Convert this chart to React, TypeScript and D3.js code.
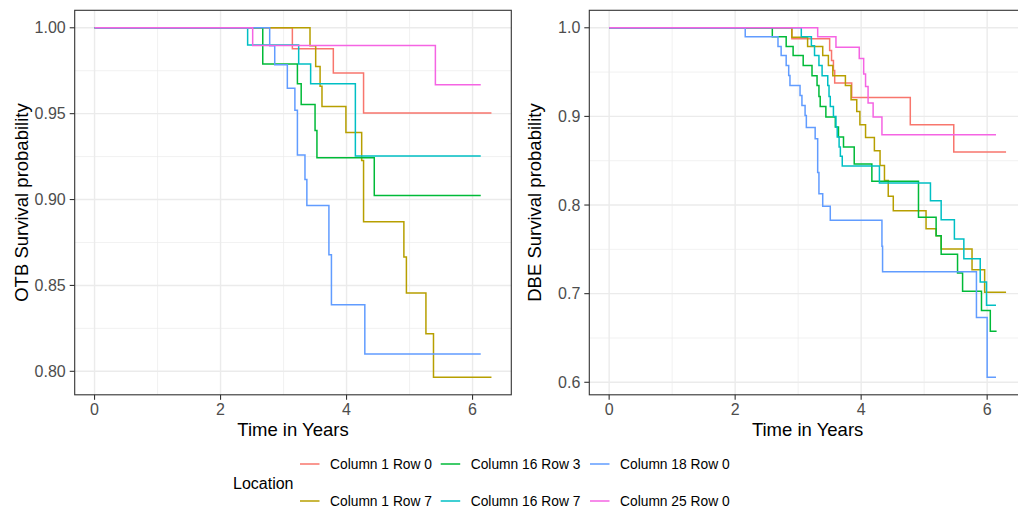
import React from 'react';
import * as d3 from 'd3';

type Pt = [number, number];

// ---------- data ----------
const locations = ['Column 1 Row 0', 'Column 1 Row 7', 'Column 16 Row 3', 'Column 16 Row 7', 'Column 18 Row 0', 'Column 25 Row 0'];
const colors = ['#F8766D', '#B79F00', '#00BA38', '#00BFC4', '#619CFF', '#F564E3'];

// OTB panel (time in years, survival probability)
const otbC1R0: Pt[] = [[0, 1], [3.14, 0.9878], [3.79, 0.9737], [4.27, 0.9504], [6.3, 0.9504]];
const otbC1R7: Pt[] = [[0, 1], [3.42, 0.9895], [3.51, 0.9775], [3.58, 0.966], [3.61, 0.9542], [3.99, 0.939], [4.24, 0.9228], [4.27, 0.887], [4.91, 0.8666], [4.95, 0.8456], [5.26, 0.8218], [5.38, 0.7965], [6.3, 0.7965]];
const otbC16R3: Pt[] = [[0, 1], [2.67, 0.9789], [3.22, 0.9674], [3.28, 0.9553], [3.5, 0.9402], [3.53, 0.9244], [4.44, 0.9024], [6.13, 0.9024]];
const otbC16R7: Pt[] = [[0, 1], [2.43, 0.99], [3.24, 0.9789], [3.43, 0.9674], [4.14, 0.9253], [6.13, 0.9253]];
const otbC18R0: Pt[] = [[0, 1], [2.78, 0.9895], [2.86, 0.9785], [3.06, 0.9648], [3.18, 0.952], [3.22, 0.9259], [3.34, 0.9116], [3.37, 0.8966], [3.72, 0.8679], [3.76, 0.8388], [4.29, 0.8101], [6.13, 0.8101]];
const otbC25R0: Pt[] = [[0, 1], [2.51, 0.9897], [5.41, 0.9668], [6.13, 0.9668]];

// DBE panel
const dbeC1R0: Pt[] = [[0, 1], [2.9, 0.9876], [3.5, 0.9744], [3.53, 0.9631], [3.56, 0.9519], [3.58, 0.9376], [3.85, 0.9214], [4.78, 0.8906], [5.47, 0.8598], [6.3, 0.8598]];
const dbeC1R7: Pt[] = [[0, 1], [2.9, 0.9893], [3.15, 0.979], [3.39, 0.9688], [3.48, 0.9575], [3.55, 0.946], [3.75, 0.9349], [3.84, 0.9187], [3.93, 0.9055], [3.98, 0.8905], [4.07, 0.8762], [4.21, 0.8612], [4.3, 0.8447], [4.37, 0.8278], [4.43, 0.8098], [4.51, 0.7935], [5.03, 0.7733], [5.19, 0.7654], [5.27, 0.7504], [5.76, 0.7271], [5.96, 0.7015], [6.3, 0.7015]];
const dbeC16R3: Pt[] = [[0, 1], [2.59, 0.9898], [2.81, 0.979], [2.92, 0.9688], [3.08, 0.9575], [3.22, 0.946], [3.3, 0.935], [3.33, 0.9225], [3.35, 0.9112], [3.44, 0.8993], [3.59, 0.888], [3.64, 0.8767], [3.72, 0.8655], [3.89, 0.8463], [4.17, 0.8267], [4.91, 0.7861], [5.19, 0.7654], [5.27, 0.7444], [5.53, 0.7234], [5.61, 0.7026], [5.91, 0.681], [6.05, 0.6575], [6.15, 0.6575]];
const dbeC16R7: Pt[] = [[0, 1], [3.05, 0.9898], [3.21, 0.9797], [3.26, 0.9688], [3.33, 0.9575], [3.38, 0.946], [3.47, 0.935], [3.49, 0.9225], [3.51, 0.9112], [3.56, 0.9], [3.6, 0.888], [3.62, 0.8767], [3.65, 0.8655], [3.67, 0.855], [3.7, 0.844], [4.29, 0.8249], [5.1, 0.8049], [5.27, 0.7834], [5.48, 0.7617], [5.63, 0.7395], [5.89, 0.7132], [5.99, 0.6868], [6.14, 0.6868]];
const dbeC18R0: Pt[] = [[0, 1], [2.16, 0.9898], [2.68, 0.979], [2.73, 0.9688], [2.81, 0.9575], [2.85, 0.9462], [2.87, 0.9349], [3.03, 0.9236], [3.06, 0.9124], [3.11, 0.9011], [3.13, 0.8876], [3.27, 0.8748], [3.31, 0.8368], [3.33, 0.8128], [3.39, 0.7985], [3.51, 0.7827], [4.33, 0.7534], [4.34, 0.7248], [5.83, 0.673], [6.0, 0.6056], [6.14, 0.6056]];
const dbeC25R0: Pt[] = [[0, 1], [3.31, 0.99], [3.6, 0.978], [3.97, 0.9654], [4.04, 0.9478], [4.07, 0.9338], [4.11, 0.9151], [4.19, 0.8993], [4.33, 0.8793], [6.14, 0.8793]];

const otbSeries = [otbC1R0, otbC1R7, otbC16R3, otbC16R7, otbC18R0, otbC25R0];
const dbeSeries = [dbeC1R0, dbeC1R7, dbeC16R3, dbeC16R7, dbeC18R0, dbeC25R0];

const xTicks = [0, 2, 4, 6];
const xMinorTicks = [1, 3, 5];
const otbYTicks = [0.8, 0.85, 0.9, 0.95, 1.0];
const otbYMinor = [0.825, 0.875, 0.925, 0.975];
const dbeYTicks = [0.6, 0.7, 0.8, 0.9, 1.0];
const dbeYMinor = [0.65, 0.75, 0.85, 0.95];

// legend order (2 rows, filled by column)
const legendRows = [[0, 2, 4], [1, 3, 5]];

// ---------- layout ----------
const W = 1018;
const H = 510;
const PANEL_TOP = 10.3;
const PANEL_BOTTOM = 394.8;
const PANEL_W = 436.6;
const FONT = "'Liberation Sans', Arial, Helvetica, sans-serif";

const xMax = d3.max([...otbSeries, ...dbeSeries].flat(), (d) => d[0]) as number;

interface PanelProps {
  x0: number;
  series: Pt[][];
  yTicks: number[];
  yMinor: number[];
  yFmt: (v: number) => string;
  yTitle: string;
  yTitleX: number;
}

function Panel({ x0, series, yTicks, yMinor, yFmt, yTitle, yTitleX }: PanelProps) {
  const xPad = xMax * 0.05;
  const x = d3.scaleLinear().domain([-xPad, xMax + xPad]).range([x0, x0 + PANEL_W]);
  const yMin = d3.min(series.flat(), (d) => d[1]) as number;
  const yMaxV = d3.max(series.flat(), (d) => d[1]) as number;
  const yPad = (yMaxV - yMin) * 0.05;
  const y = d3.scaleLinear().domain([yMin - yPad, yMaxV + yPad]).range([PANEL_BOTTOM, PANEL_TOP]);
  const line = d3
    .line<Pt>()
    .x((d) => x(d[0]))
    .y((d) => y(d[1]))
    .curve(d3.curveStepAfter);
  const x1 = x0 + PANEL_W;
  const cx = (x0 + x1) / 2;
  const cy = (PANEL_TOP + PANEL_BOTTOM) / 2;
  return (
    <g>
      <rect x={x0} y={PANEL_TOP} width={PANEL_W} height={PANEL_BOTTOM - PANEL_TOP} fill="#FFFFFF" />
      {/* minor grid */}
      {xMinorTicks.map((t) => (
        <line key={'xm' + t} x1={x(t)} x2={x(t)} y1={PANEL_TOP} y2={PANEL_BOTTOM} stroke="#EBEBEB" strokeWidth={0.7} />
      ))}
      {yMinor.map((t) => (
        <line key={'ym' + t} x1={x0} x2={x1} y1={y(t)} y2={y(t)} stroke="#EBEBEB" strokeWidth={0.7} />
      ))}
      {/* major grid */}
      {xTicks.map((t) => (
        <line key={'xg' + t} x1={x(t)} x2={x(t)} y1={PANEL_TOP} y2={PANEL_BOTTOM} stroke="#EBEBEB" strokeWidth={1.4} />
      ))}
      {yTicks.map((t) => (
        <line key={'yg' + t} x1={x0} x2={x1} y1={y(t)} y2={y(t)} stroke="#EBEBEB" strokeWidth={1.4} />
      ))}
      {/* curves */}
      {series.map((s, i) => (
        <path key={'s' + i} d={line(s) || ''} fill="none" stroke={colors[i]} strokeWidth={1.5} />
      ))}
      {/* border */}
      <rect x={x0} y={PANEL_TOP} width={PANEL_W} height={PANEL_BOTTOM - PANEL_TOP} fill="none" stroke="#333333" strokeWidth={1.1} />
      {/* y axis ticks + labels */}
      {yTicks.map((t) => (
        <g key={'yt' + t}>
          <line x1={x0 - 5} x2={x0} y1={y(t)} y2={y(t)} stroke="#333333" strokeWidth={1.1} />
          <text x={x0 - 9} y={y(t)} dy="0.35em" textAnchor="end" fontSize={16} fill="#4D4D4D" fontFamily={FONT}>
            {yFmt(t)}
          </text>
        </g>
      ))}
      {/* x axis ticks + labels */}
      {xTicks.map((t) => (
        <g key={'xt' + t}>
          <line x1={x(t)} x2={x(t)} y1={PANEL_BOTTOM} y2={PANEL_BOTTOM + 5} stroke="#333333" strokeWidth={1.1} />
          <text x={x(t)} y={PANEL_BOTTOM + 20.5} textAnchor="middle" fontSize={16} fill="#4D4D4D" fontFamily={FONT}>
            {d3.format('d')(t)}
          </text>
        </g>
      ))}
      {/* axis titles */}
      <text x={cx} y={436} textAnchor="middle" fontSize={18.5} fill="#000000" fontFamily={FONT}>
        Time in Years
      </text>
      <text
        transform={`translate(${yTitleX},${cy}) rotate(-90)`}
        textAnchor="middle"
        fontSize={18.5}
        fill="#000000"
        fontFamily={FONT}
      >
        {yTitle}
      </text>
    </g>
  );
}

function Legend() {
  const colX = [300, 440.7, 590];
  const rowY = [464, 501];
  return (
    <g>
      <text x={233} y={483} dy="0.35em" fontSize={16} fill="#000000" fontFamily={FONT}>
        Location
      </text>
      {legendRows.map((row, r) =>
        row.map((idx, c) => (
          <g key={'lg' + idx}>
            <line x1={colX[c]} x2={colX[c] + 19.5} y1={rowY[r]} y2={rowY[r]} stroke={colors[idx]} strokeWidth={1.5} />
            <text x={colX[c] + 30} y={rowY[r]} dy="0.35em" fontSize={13.8} fill="#000000" fontFamily={FONT}>
              {locations[idx]}
            </text>
          </g>
        ))
      )}
    </g>
  );
}

export default function App() {
  return (
    <div style={{ position: 'absolute', left: 0, top: 0, width: W, height: H, overflow: 'hidden', background: '#FFFFFF' }}>
      <svg width={W} height={H} viewBox={`0 0 ${W} ${H}`} style={{ display: 'block' }}>
        <rect x={0} y={0} width={W} height={H} fill="#FFFFFF" />
        <Panel
          x0={74.7}
          series={otbSeries}
          yTicks={otbYTicks}
          yMinor={otbYMinor}
          yFmt={d3.format('.2f')}
          yTitle="OTB Survival probability"
          yTitleX={27.5}
        />
        <Panel
          x0={589.3}
          series={dbeSeries}
          yTicks={dbeYTicks}
          yMinor={dbeYMinor}
          yFmt={d3.format('.1f')}
          yTitle="DBE Survival probability"
          yTitleX={541}
        />
        <Legend />
      </svg>
    </div>
  );
}
